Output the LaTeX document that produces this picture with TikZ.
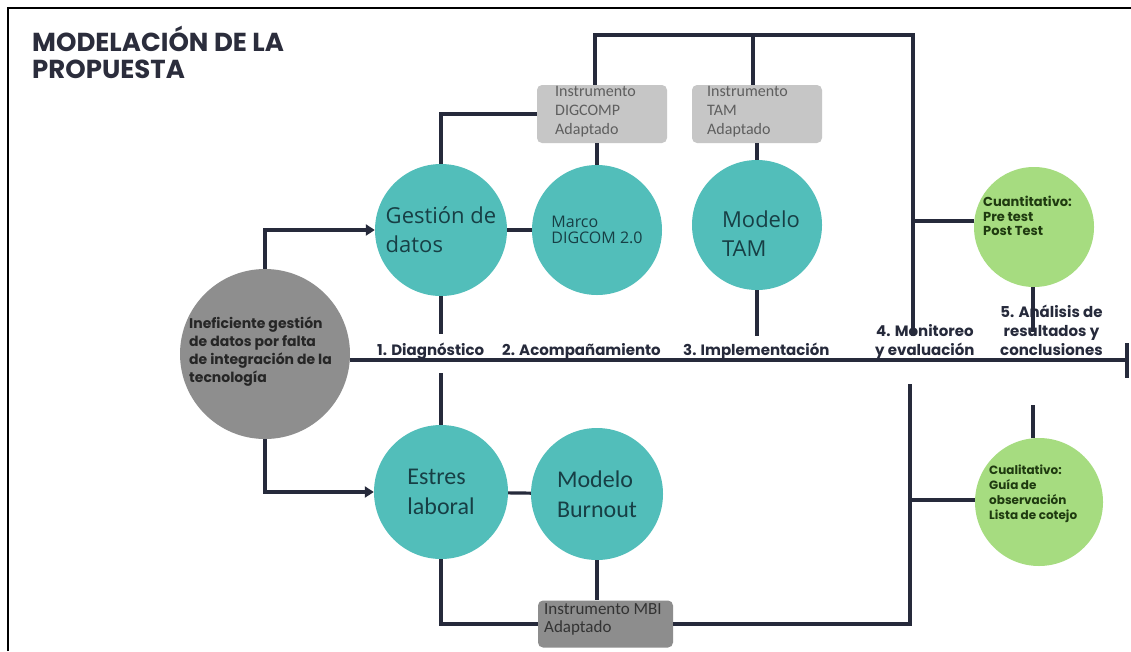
\documentclass[tikz,border=0pt]{standalone}
\usepackage{fontspec}
\setmainfont{Open Sans}
\newfontfamily\pop{Poppins}
\newfontfamily\carl{Carlito}
\newfontfamily\osans{Open Sans}
\usetikzlibrary{arrows.meta}
\definecolor{navy}{HTML}{262A3B}
\definecolor{titlec}{HTML}{2B2D3C}
\definecolor{tealc}{HTML}{52BEBA}
\definecolor{tealtxt}{HTML}{173F45}
\definecolor{grayc}{HTML}{8E8E8E}
\definecolor{lboxc}{HTML}{C6C6C6}
\definecolor{dboxc}{HTML}{8D8D8D}
\definecolor{greenc}{HTML}{A6DC80}
\definecolor{greentxt}{HTML}{1F3A10}
\definecolor{boxtxt}{HTML}{5E5E5E}
\tikzset{
  conn/.style={draw=navy, line width=3.2pt},
  arr/.style={conn, -{Triangle[length=9pt,width=11pt]}},
  tcirc/.style={circle, fill=tealc, inner sep=0pt, text=tealtxt, align=left},
  ctext/.style={inner sep=0pt, text=tealtxt, align=left},
  gcirc/.style={circle, fill=greenc, inner sep=0pt},
  lbox/.style={rectangle, rounded corners=5pt, fill=lboxc, inner sep=0pt},
  btext/.style={anchor=north west, inner sep=0pt, align=left, text=boxtxt, font=\carl\fontsize{16}{19}\selectfont},
  dbox/.style={rectangle, rounded corners=5pt, fill=dboxc, inner sep=0pt},
  axlab/.style={font=\pop\bfseries\fontsize{15}{19}\selectfont, text=navy, inner sep=0pt, align=center},
  gtxt/.style={font=\pop\bfseries\fontsize{13}{14.5}\selectfont, text=greentxt, inner sep=0pt, align=left, anchor=north west}
}
\begin{document}
\begin{tikzpicture}[x=1pt,y=-1pt]
\useasboundingbox (0,0) rectangle (1131,651);
\fill[white] (0,0) rectangle (1131,651);
% frame
\draw[line width=1.6pt, black] (8,651) -- (8,8) -- (1131,8);
% title
\node[anchor=north west, inner sep=0pt, align=left, text=titlec, font=\pop\bfseries\fontsize{26}{27}\selectfont] (title) at (32,26) {MODELACIÓN DE LA\\PROPUESTA};

% circles
\node[circle, fill=grayc, inner sep=0pt, minimum size=170pt] (gray) at (265,354) {};
\node[anchor=north west, inner sep=0pt, align=left, text=black!85, font=\pop\bfseries\fontsize{14}{18}\selectfont] (grayT) at (189,317) {Ineficiente gestión\\ de datos por falta\\de integración de la\\tecnología};

\node[tcirc, minimum size=132pt, font=\osans\fontsize{22}{29}\selectfont] (gest) at (441,230) {Gestión de\\datos};
\node[tcirc, minimum size=130pt, font=\osans\fontsize{16}{16}\selectfont] (marco) at (597,230) {Marco\\DIGCOM 2.0};
\node[tcirc, minimum size=130pt] (tam) at (757,225) {};
\node[ctext, font=\osans\fontsize{22}{29}\selectfont] (tamT) at (761,234) {Modelo\\TAM};
\node[tcirc, minimum size=134pt, font=\carl\fontsize{24}{30}\selectfont] (est) at (441,492) {Estres\\laboral};
\node[tcirc, minimum size=132pt, font=\carl\fontsize{24}{30}\selectfont] (burn) at (597,494) {Modelo\\Burnout};

\node[gcirc, minimum size=120pt] (cuan) at (1034,227) {};
\node[gtxt] (cuanT) at (983,196) {Cuantitativo:\\Pre test\\Post Test};
\node[gcirc, minimum size=128pt] (cual) at (1039,502) {};
\node[gtxt, font=\pop\bfseries\fontsize{12}{15}\selectfont] (cualT) at (989,465) {Cualitativo:\\Guía de\\observación\\Lista de cotejo};

% boxes
\node[lbox, minimum width=130pt, minimum height=58pt] (digbox) at (602,114) {};
\node[btext] (digT) at (555,86) {Instrumento\\DIGCOMP\\Adaptado};
\node[lbox, minimum width=130pt, minimum height=58pt] (tambox) at (757,114) {};
\node[btext] (tamT2) at (707,86) {Instrumento\\TAM\\Adaptado};
\node[dbox, minimum width=135pt, minimum height=47pt] (mbi) at (605.5,624) {};
\node[anchor=north west, inner sep=0pt, align=left, text=black!80, font=\carl\fontsize{17}{18}\selectfont] (mbiT) at (544,603) {Instrumento MBI\\Adaptado};

% coordinates
\coordinate (tl) at (595,35);
\coordinate (tm) at (753,35);
\coordinate (tr) at (913,35);
\coordinate (monTop) at (913,336);
\coordinate (cuanJ) at (913,221);
\coordinate (monBot) at (910,384);
\coordinate (cualJ) at (910,500);
\coordinate (mbiJ) at (910,624);
\coordinate (gestB) at (441,334);
\coordinate (estT) at (441,373);
\coordinate (tamB) at (757,336);
\coordinate (cuanB) at (1033,332);
\coordinate (cualT0) at (1033,405);
\coordinate (axend) at (1127,360);
\coordinate (barT) at (1127,343);
\coordinate (barB) at (1127,378);

% connectors
\draw[arr] (gray.north) |- (gest.west);
\draw[arr] (gray.south) |- (est.west);
\draw[conn] (gest) -- (marco);
\draw[conn] (est) -- (burn);
\draw[conn] (gest.north) |- (digbox.west);
\draw[conn] (marco.north) -- (marco.north |- digbox.south);
\draw[conn] (digbox.north -| tl) -- (tl) -- (tr) -- (monTop);
\draw[conn] (tambox.north -| tm) -- (tm);
\draw[conn] (tam.north |- tambox.south) -- (tam.north);
\draw[conn] (tam.south) -- (tamB);
\draw[conn] (gest.south) -- (gestB);
\draw[conn] (estT) -- (est.north);
\draw[conn] (cuanJ) -- (cuanJ -| cuan.west);
\draw[conn] (cuan.south -| cuanB) -- (cuanB);
\draw[conn] (cualT0) -- (cualT0 |- cual.north);
\draw[conn] (est.south) |- (mbi.west);
\draw[conn] (burn.south) -- (burn.south |- mbi.north);
\draw[conn] (mbi.east) -- (mbi.east -| mbiJ) -- (monBot);
\draw[conn] (cualJ) -- (cualJ -| cual.west);
% axis
\draw[conn, line width=3.4pt] (gray.east |- axend) -- (axend);
\draw[conn, line width=3.4pt] (barT) -- (barB);

% axis labels
\node[axlab, anchor=base west] (l1) at (377,355) {1. Diagnóstico};
\node[axlab, anchor=base west] (l2) at (502,355) {2. Acompañamiento};
\node[axlab, anchor=base west] (l3) at (683,355) {3. Implementación};
\node[axlab, anchor=base west] (l4) at (875,355) {4. Monitoreo\\y evaluación};
\node[axlab, anchor=base west] (l5) at (1000,355) {5. Análisis de\\resultados y\\conclusiones};
\end{tikzpicture}
\end{document}
